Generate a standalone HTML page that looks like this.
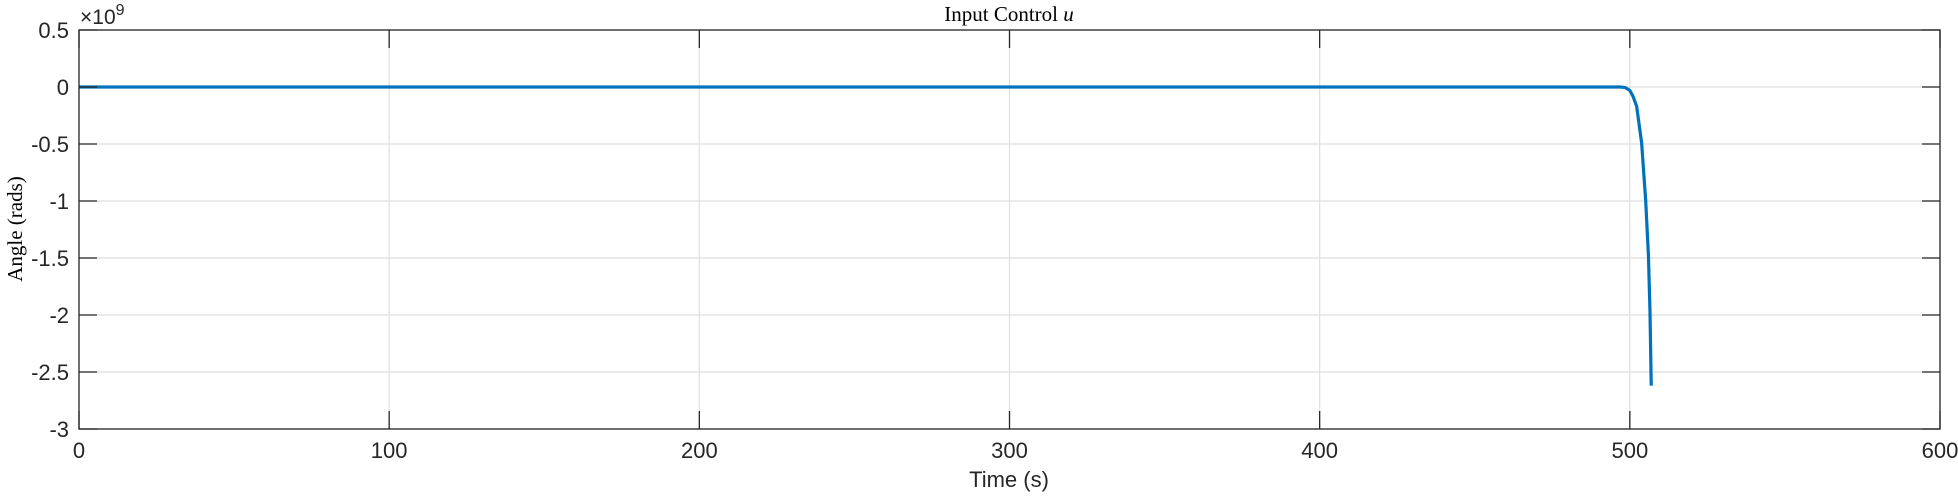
<!DOCTYPE html>
<html><head><meta charset="utf-8"><style>
html,body{margin:0;padding:0;background:#fff;}
svg{display:block;}
</style></head><body>
<svg id="chart" width="1958" height="496" xmlns="http://www.w3.org/2000/svg">
<g id="grid"></g>
<g id="series"></g>
<rect x="79" y="30" width="1861" height="399" fill="none" stroke="#262626" stroke-width="1.3"/>
<g id="ticks"></g>
<text x="1009" y="21" text-anchor="middle" font-family="Liberation Serif, serif" font-size="21" fill="#000">Input Control <tspan font-style="italic">u</tspan></text>
<text x="1009" y="487" text-anchor="middle" font-family="Liberation Sans, sans-serif" font-size="22" fill="#262626">Time (s)</text>
<text transform="translate(22,229) rotate(-90)" text-anchor="middle" font-family="Liberation Serif, serif" font-size="21" fill="#000">Angle (rads)</text>
<text x="80" y="24" font-family="Liberation Sans, sans-serif" font-size="21" fill="#262626">×10<tspan dy="-9" font-size="16">9</tspan></text>
</svg>
<script>
const xTicks = [0,100,200,300,400,500,600];
const yTicks = [0.5,0,-0.5,-1,-1.5,-2,-2.5,-3];
const yTickLabels = ["0.5","0","-0.5","-1","-1.5","-2","-2.5","-3"];
const times = [0,100,200,300,400,490,495,497,498.5,500,501,502.2,503.8,505.1,506,506.5,506.9];
const values = [0,0,0,0,0,0,0,0,-0.005,-0.03,-0.08,-0.17,-0.49,-0.99,-1.48,-1.97,-2.62];
const L=79,R=1940,T=30,B=429;
const xs=v=>L+(v-0)/(600-0)*(R-L);
const ys=v=>T+(0.5-v)/(0.5+3)*(B-T);
const NS='http://www.w3.org/2000/svg';
const grid=document.getElementById('grid'),ticks=document.getElementById('ticks'),series=document.getElementById('series');
function mk(tag,attrs,parent){const e=document.createElementNS(NS,tag);for(const k in attrs)e.setAttribute(k,attrs[k]);parent.appendChild(e);return e;}
xTicks.forEach(t=>{
  const x=xs(t);
  const g=mk('line',{x1:x,x2:x,y1:T,y2:B,stroke:'#dfdfdf','stroke-width':1.2},grid);
  
  
  const tk=mk('line',{x1:x,x2:x,y1:B,y2:B-18,stroke:'#262626','stroke-width':1.3},ticks);
  
  
  const tk2=mk('line',{x1:x,x2:x,y1:T,y2:T+18,stroke:'#262626','stroke-width':1.3},ticks);
  
  
  const lb=mk('text',{x:x,y:B+29,'text-anchor':'middle','font-family':'Liberation Sans, sans-serif','font-size':22,fill:'#262626'},ticks);
  lb.textContent=String(t);
  
  
});
yTicks.forEach((t,i)=>{
  const y=ys(t);
  const g=mk('line',{x1:L,x2:R,y1:y,y2:y,stroke:'#dfdfdf','stroke-width':1.2},grid);
  
  
  const tk=mk('line',{x1:L,x2:L+18,y1:y,y2:y,stroke:'#262626','stroke-width':1.3},ticks);
  
  
  const tk2=mk('line',{x1:R,x2:R-18,y1:y,y2:y,stroke:'#262626','stroke-width':1.3},ticks);
  
  
  const lb=mk('text',{x:L-10,y:y+8,'text-anchor':'end','font-family':'Liberation Sans, sans-serif','font-size':22,fill:'#262626'},ticks);
  lb.textContent=yTickLabels[i];
  
  
});
const d=times.map((t,i)=>(i?'L':'M')+xs(t).toFixed(2)+','+ys(values[i]).toFixed(2)).join(' ');
const p=mk('path',{d:d,fill:'none',stroke:'#0072BD','stroke-width':3.2,'stroke-linejoin':'round'},series);


</script>
</body></html>
